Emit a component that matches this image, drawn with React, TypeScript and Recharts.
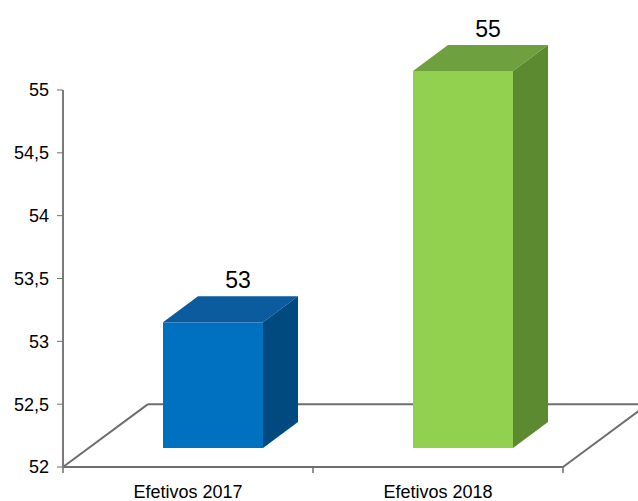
import { BarChart, Bar, XAxis, YAxis, ReferenceArea, LabelList } from 'recharts';

const categories = ['Efetivos 2017', 'Efetivos 2018'];
const values = [53, 55];
const yTicks = [52, 52.5, 53, 53.5, 54, 54.5, 55];
const palette = [
  { front: '#0070C0', top: '#0A5C9E', side: '#004A80' },
  { front: '#92D050', top: '#6FA03F', side: '#5C8A30' },
];

const data = categories.map((name, i) => ({ name, value: values[i] }));

// 3d look: box depth and where the box sits on the floor
const DX = 35;
const DY = 26;
const SHIFT_X = 25;
const SHIFT_Y = 19;
const FLOOR_DX = 85;

function Box(props: any) {
  const { x, y, width, height, index } = props;
  const c = palette[index];
  const fx = x + SHIFT_X;
  const fy = y - SHIFT_Y;
  const top = `${fx},${fy} ${fx + DX},${fy - DY} ${fx + width + DX},${fy - DY} ${fx + width},${fy}`;
  const side = `${fx + width},${fy} ${fx + width + DX},${fy - DY} ${fx + width + DX},${fy + height - DY} ${fx + width},${fy + height}`;
  return (
    <g>
      <rect x={fx} y={fy} width={width} height={height} fill={c.front} />
      <polygon points={top} fill={c.top} />
      <polygon points={side} fill={c.side} />
    </g>
  );
}

function Floor(props: any) {
  const { x, y, width, height } = props;
  const front = y + height;
  const n = categories.length;
  return (
    <g stroke="#6E6E6E" strokeWidth={2} fill="none">
      <line x1={x} y1={front} x2={x + FLOOR_DX} y2={y} />
      <line x1={x + FLOOR_DX} y1={y} x2={x + width + FLOOR_DX} y2={y} />
      <line x1={x + width} y1={front} x2={x + width + FLOOR_DX} y2={y} />
      {Array.from({ length: n + 1 }).map((_, i) => (
        <line key={i} x1={x + (i * width) / n} y1={front} x2={x + (i * width) / n} y2={front + 6} strokeWidth={1.5} />
      ))}
    </g>
  );
}

function ValueLabel(props: any) {
  const { x, y, width, value } = props;
  return (
    <text
      x={x + SHIFT_X + width / 2 + 25}
      y={y - SHIFT_Y - DY - 8}
      textAnchor="middle"
      fontSize={23}
      fill="#000"
      fontFamily="'Liberation Sans', Arial, sans-serif"
    >
      {value}
    </text>
  );
}

export default function App() {
  return (
    <div style={{ position: 'absolute', left: 0, top: 0, background: '#fff' }}>
      <BarChart
        width={638}
        height={501}
        data={data}
        margin={{ top: 90, right: 75, bottom: 8, left: 0 }}
        barSize={100}
        style={{ fontFamily: "'Liberation Sans', Arial, sans-serif" }}
      >
        <XAxis
          dataKey="name"
          height={26}
          tickLine={false}
          axisLine={{ stroke: '#6E6E6E', strokeWidth: 2 }}
          tick={{ fill: '#000', fontSize: 18 }}
          tickMargin={12}
        />
        <YAxis
          domain={[52, 55]}
          ticks={yTicks}
          width={63}
          tickFormatter={(v: number) => String(v).replace('.', ',')}
          axisLine={{ stroke: '#7A7A7A', strokeWidth: 2 }}
          tickLine={{ stroke: '#6E6E6E' }}
          tick={{ fill: '#000', fontSize: 18 }}
          tickMargin={8}
        />
        <ReferenceArea y1={52} y2={52.5} ifOverflow="visible" shape={Floor} />
        <Bar dataKey="value" shape={Box} isAnimationActive={false}>
          <LabelList dataKey="value" content={ValueLabel} />
        </Bar>
      </BarChart>
    </div>
  );
}
